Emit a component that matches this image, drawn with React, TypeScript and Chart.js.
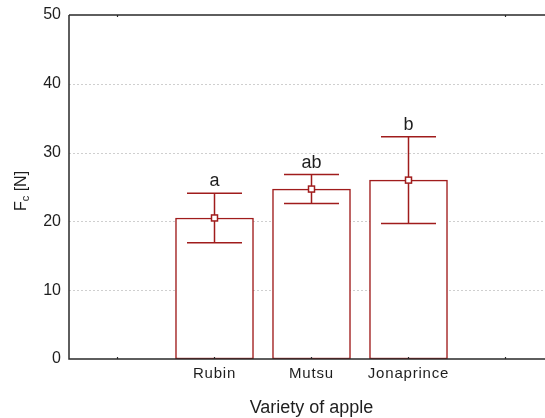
import React, { useEffect, useRef } from "react";
import { Chart, registerables } from "chart.js";

Chart.register(...registerables);

const categories = ["Rubin", "Mutsu", "Jonaprince"];
const categoryPositions = [2, 3, 4];
const means = [20.5, 24.7, 26.0];
const errors = [3.6, 2.1, 6.3];
const groupLetters = ["a", "ab", "b"];
const yTicks = [0, 10, 20, 30, 40, 50];
const xTickPositions = [1, 2, 3, 4, 5];

const RED = "#a01c1c";
const FONT = "'Liberation Sans', Arial, sans-serif";
const TEXT = "#1e1e1e";

const customPlugin = {
  id: "custom",
  beforeDatasetsDraw(chart: any) {
    const { ctx, chartArea, scales } = chart;
    const y = scales.y;
    const x = scales.x;
    ctx.save();
    // grid lines
    ctx.strokeStyle = "#cfcfcf";
    ctx.lineWidth = 1;
    ctx.setLineDash([2, 2]);
    yTicks.forEach((v) => {
      if (v === 0 || v === 50) return;
      const py = Math.round(y.getPixelForValue(v)) + 0.5;
      ctx.beginPath();
      ctx.moveTo(chartArea.left, py);
      ctx.lineTo(chartArea.right, py);
      ctx.stroke();
    });
    ctx.setLineDash([]);
    // y tick labels
    ctx.fillStyle = TEXT;
    ctx.font = `16px ${FONT}`;
    (ctx as any).letterSpacing = "0px";
    ctx.textAlign = "right";
    ctx.textBaseline = "middle";
    yTicks.forEach((v) => {
      ctx.fillText(String(v), chartArea.left - 8, y.getPixelForValue(v));
    });
    // x labels
    ctx.font = `15px ${FONT}`;
    ctx.textAlign = "center";
    ctx.textBaseline = "middle";
    (ctx as any).letterSpacing = "0.8px";
    categories.forEach((c, i) => {
      ctx.fillText(c, x.getPixelForValue(categoryPositions[i]), 374);
    });
    // x title
    ctx.font = `18px ${FONT}`;
    (ctx as any).letterSpacing = "0px";
    ctx.fillText("Variety of apple", x.getPixelForValue(3), 408);
    // y title
    ctx.save();
    ctx.translate(20, 191);
    ctx.rotate(-Math.PI / 2);
    ctx.font = `16px ${FONT}`;
    const wF = ctx.measureText("F").width;
    ctx.font = `11px ${FONT}`;
    const wc = ctx.measureText("c").width;
    ctx.font = `16px ${FONT}`;
    const wN = ctx.measureText(" [N]").width;
    const total = wF + wc + wN;
    let sx = -total / 2;
    ctx.textAlign = "left";
    ctx.textBaseline = "alphabetic";
    ctx.fillText("F", sx, 6);
    sx += wF;
    ctx.font = `11px ${FONT}`;
    ctx.fillText("c", sx, 9);
    sx += wc;
    ctx.font = `16px ${FONT}`;
    ctx.fillText(" [N]", sx, 6);
    ctx.restore();
    ctx.restore();
  },
  afterDatasetsDraw(chart: any) {
    const { ctx, chartArea, scales } = chart;
    const y = scales.y;
    const x = scales.x;
    ctx.save();
    // axes
    ctx.strokeStyle = "#2a2a2a";
    ctx.lineWidth = 1.5;
    ctx.beginPath();
    ctx.moveTo(chartArea.left, chartArea.top);
    ctx.lineTo(chartArea.right, chartArea.top);
    ctx.moveTo(chartArea.left, chartArea.top);
    ctx.lineTo(chartArea.left, chartArea.bottom);
    ctx.lineTo(chartArea.right, chartArea.bottom);
    ctx.stroke();
    // small tick marks
    ctx.lineWidth = 1.2;
    xTickPositions.forEach((p) => {
      const px = x.getPixelForValue(p);
      ctx.beginPath();
      ctx.moveTo(px, chartArea.bottom);
      ctx.lineTo(px, chartArea.bottom - 2);
      ctx.stroke();
    });
    [1, 5].forEach((p) => {
      const px = x.getPixelForValue(p);
      ctx.beginPath();
      ctx.moveTo(px, chartArea.top);
      ctx.lineTo(px, chartArea.top + 2);
      ctx.stroke();
    });
    // error bars
    ctx.strokeStyle = RED;
    ctx.lineWidth = 1.5;
    means.forEach((m, i) => {
      const px = x.getPixelForValue(categoryPositions[i]);
      const top = y.getPixelForValue(m + errors[i]);
      const bot = y.getPixelForValue(m - errors[i]);
      const cap = 27.5;
      ctx.beginPath();
      ctx.moveTo(px, top);
      ctx.lineTo(px, bot);
      ctx.moveTo(px - cap, top);
      ctx.lineTo(px + cap, top);
      ctx.moveTo(px - cap, bot);
      ctx.lineTo(px + cap, bot);
      ctx.stroke();
      const my = y.getPixelForValue(m);
      ctx.fillStyle = "#ffffff";
      ctx.fillRect(px - 3, my - 3, 6, 6);
      ctx.strokeRect(px - 3, my - 3, 6, 6);
      // letters
      ctx.fillStyle = TEXT;
      ctx.font = `18px ${FONT}`;
      ctx.textAlign = "center";
      ctx.textBaseline = "alphabetic";
      ctx.fillText(groupLetters[i], px, top - 7);
    });
    ctx.restore();
  },
};

export default function App() {
  const ref = useRef<HTMLCanvasElement>(null);
  useEffect(() => {
    if (!ref.current) return;
    const chart = new Chart(ref.current, {
      type: "bar",
      data: {
        datasets: [
          {
            data: means.map((m, i) => ({ x: categoryPositions[i], y: m })),
            backgroundColor: "#ffffff",
            borderColor: RED,
            borderWidth: 1.5,
            borderSkipped: false,
            barThickness: 78,
          } as any,
        ],
      },
      options: {
        animation: false,
        responsive: false,
        layout: { padding: { top: 15, right: 0, left: 0, bottom: 0 } },
        plugins: { legend: { display: false }, tooltip: { enabled: false } },
        scales: {
          x: {
            type: "linear",
            offset: false,
            min: 0.5,
            max: 0.5 + 476 / 97,
            ticks: { display: false },
            grid: { display: false, drawTicks: false, offset: false },
            border: { display: false },
            afterFit: (s: any) => {
              s.height = 59;
            },
          },
          y: {
            min: 0,
            max: 50,
            ticks: { display: false, stepSize: 10 },
            grid: { display: false, drawTicks: false },
            border: { display: false },
            afterFit: (s: any) => {
              s.width = 69;
            },
          },
        },
      },
      plugins: [customPlugin],
    });
    return () => chart.destroy();
  }, []);
  return (
    <div style={{ position: "absolute", left: 0, top: 0, width: 545, height: 418, background: "#fff" }}>
      <canvas ref={ref} width={545} height={418} style={{ display: "block" }} />
    </div>
  );
}
